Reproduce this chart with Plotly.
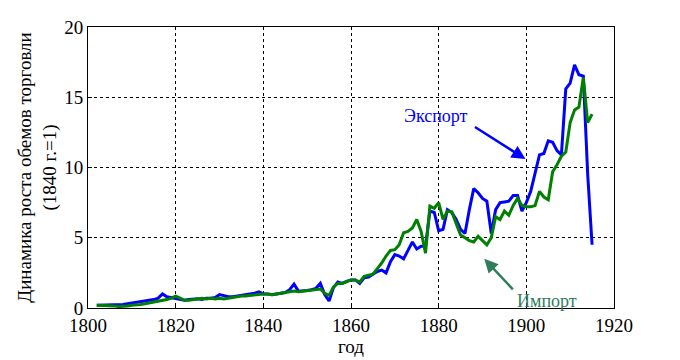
import plotly.graph_objects as go

years = list(range(1802, 1916))

export_vals = [
    0.2, 0.2, 0.2, 0.25, 0.2, 0.2, 0.25, 0.3, 0.35, 0.35,      # 1802-1811
    0.4, 0.45, 0.55, 0.6, 0.7, 1.0, 0.8, 0.75, 0.7, 0.65,      # 1812-1821
    0.55, 0.6, 0.65, 0.65, 0.6, 0.7, 0.7, 0.75, 0.95, 0.85,    # 1822-1831
    0.8, 0.8, 0.85, 0.85, 0.9, 1.0, 1.05, 1.15, 1.0, 1.0,      # 1832-1841
    0.95, 1.0, 1.05, 1.1, 1.3, 1.7, 1.2, 1.2, 1.25, 1.3,       # 1842-1851
    1.4, 1.75, 0.95, 0.5, 1.45, 1.85, 1.75, 1.9, 2.0, 2.0,     # 1852-1861
    1.75, 2.15, 2.2, 2.4, 2.6, 2.7, 2.5, 3.3, 3.8, 3.7,        # 1862-1871
    3.5, 4.1, 4.7, 4.2, 4.4, 4.4, 6.9, 6.8, 5.5, 5.6,          # 1872-1881
    7.0, 6.8, 6.3, 5.6, 5.3, 7.0, 8.5, 8.2, 7.8, 7.6,          # 1882-1891
    5.3, 7.0, 7.5, 7.55, 7.6, 8.0, 8.0, 6.9, 7.5, 8.3,         # 1892-1901
    9.6, 10.9, 11.0, 11.9, 11.8, 11.2, 10.9, 15.6, 16.0, 17.3, # 1902-1911
    16.6, 16.5, 9.5, 4.5                                       # 1912-1915
]

import_vals = [
    0.2, 0.2, 0.2, 0.2, 0.15, 0.1, 0.1, 0.15, 0.2, 0.2,        # 1802-1811
    0.25, 0.3, 0.35, 0.4, 0.45, 0.55, 0.6, 0.7, 0.85, 0.7,     # 1812-1821
    0.55, 0.55, 0.6, 0.65, 0.7, 0.65, 0.7, 0.65, 0.7, 0.65,    # 1822-1831
    0.7, 0.8, 0.8, 0.85, 0.85, 0.9, 0.95, 1.0, 1.0, 1.0,       # 1832-1841
    0.95, 1.0, 1.05, 1.1, 1.15, 1.2, 1.15, 1.2, 1.2, 1.25,     # 1842-1851
    1.3, 1.35, 1.05, 0.9, 1.5, 1.75, 1.75, 1.85, 2.0, 2.0,     # 1852-1861
    1.85, 2.25, 2.3, 2.4, 2.8, 3.2, 3.7, 4.1, 4.15, 4.5,       # 1862-1871
    5.35, 5.45, 5.7, 6.3, 5.45, 3.9, 7.25, 7.1, 7.5, 6.3,      # 1872-1881
    6.9, 6.85, 6.0, 5.2, 5.0, 4.8, 4.7, 5.1, 4.8, 4.5,         # 1882-1891
    5.0, 6.5, 6.3, 6.9, 6.6, 7.3, 7.8, 7.3, 7.2, 7.2,          # 1892-1901
    7.3, 8.3, 7.9, 7.7, 9.7, 10.2, 10.8, 11.1, 13.2, 14.1,     # 1902-1911
    14.3, 16.4, 13.2, 13.8                                     # 1912-1915
]

x_ticks = [1800, 1820, 1840, 1860, 1880, 1900, 1920]
y_ticks = [0, 5, 10, 15, 20]

FONT = "Times New Roman, Liberation Serif, serif"

fig = go.Figure()
fig.add_trace(go.Scatter(x=years, y=export_vals, mode="lines",
                         line=dict(color="#0000FF", width=3), name="Экспорт"))
fig.add_trace(go.Scatter(x=years, y=import_vals, mode="lines",
                         line=dict(color="#008000", width=3), name="Импорт"))

axis_common = dict(
    showline=True, linecolor="black", linewidth=1, mirror=True,
    showgrid=True, gridcolor="black", gridwidth=1, griddash="3px,3px",
    zeroline=False, ticks="inside", ticklen=4, tickcolor="black",
    tickfont=dict(family=FONT, size=19, color="black"),
    automargin=False,
)

fig.update_xaxes(range=[1800, 1920], tickvals=x_ticks,
                 title=dict(text="год", font=dict(family=FONT, size=19, color="black"),
                            standoff=4),
                 **axis_common)
fig.update_yaxes(range=[0, 20], tickvals=y_ticks,
                 title=dict(text="Динамика роста обемов торговли<br>(1840 г.=1)",
                            font=dict(family=FONT, size=19, color="black"),
                            standoff=2),
                 **axis_common)

fig.add_annotation(x=1879.3, y=13.65, text="Экспорт", showarrow=False,
                   font=dict(family=FONT, size=18, color="#0000FF"))
fig.add_annotation(x=1899.8, y=10.6, ax=-52, ay=-33, text="", showarrow=True,
                   arrowhead=2, arrowsize=1.1, arrowwidth=2.5, arrowcolor="#0000FF")
fig.add_annotation(x=1904.8, y=0.5, text="Импорт", showarrow=False,
                   font=dict(family=FONT, size=18, color="#2E7D5B"))
fig.add_annotation(x=1890.4, y=3.5, ax=30, ay=32, text="", showarrow=True,
                   arrowhead=2, arrowsize=1.1, arrowwidth=2.5, arrowcolor="#2E7D5B")

fig.update_layout(
    width=680, height=360,
    margin=dict(l=80, r=74, t=19, b=60, autoexpand=False),
    paper_bgcolor="white", plot_bgcolor="white",
    showlegend=False,
    font=dict(family=FONT, size=19, color="black"),
)

fig.write_html("out.html")
